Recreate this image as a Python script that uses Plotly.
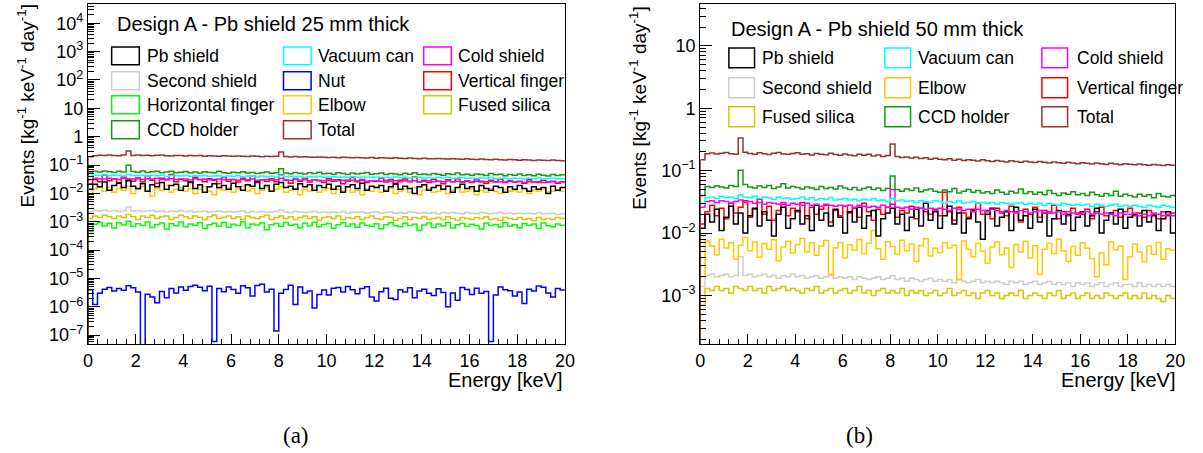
import plotly.graph_objects as go

# ---------------- data ----------------
E_MIN, E_MAX, N_BINS = 0.0, 20.0, 100
EDGES = [E_MIN + i * (E_MAX - E_MIN) / N_BINS for i in range(N_BINS + 1)]

# Panel (a): Pb shield 25 mm thick
A_TOTAL = [195, 214, 223, 217, 226, 219, 213, 224, 312, 218,
           226, 216, 220, 211, 221, 225, 214, 209, 219, 215,
           207, 216, 212, 219, 205, 213, 208, 204, 214, 209,
           203, 210, 206, 199, 208, 204, 198, 206, 201, 203,
           288, 200, 194, 199, 191, 196, 192, 187, 193, 189,
           185, 190, 182, 188, 184, 179, 186, 181, 177, 183,
           175, 181, 178, 172, 179, 174, 170, 176, 171, 167,
           174, 168, 165, 171, 166, 162, 168, 163, 159, 165,
           160, 156, 163, 158, 154, 160, 155, 151, 157, 153,
           149, 155, 150, 146, 152, 148, 144, 150, 145, 143]  # x1e-3
A_CCD = [52, 60, 57, 62, 58, 55, 61, 57, 98, 59,
         56, 62, 55, 58, 61, 54, 57, 60, 53, 56,
         59, 54, 57, 52, 58, 55, 53, 60, 54, 51,
         56, 53, 58, 52, 55, 50, 54, 57, 51, 53,
         74, 52, 49, 55, 51, 48, 53, 50, 56, 49,
         51, 47, 53, 50, 46, 52, 48, 51, 55, 47,
         49, 52, 46, 50, 48, 45, 51, 47, 54, 46,
         48, 45, 50, 47, 44, 49, 46, 52, 45, 47,
         44, 48, 46, 43, 50, 45, 47, 42, 46, 44,
         48, 43, 45, 42, 47, 44, 41, 46, 43, 45]  # x1e-3
A_VAC = [40, 44, 43, 45, 42, 44, 43, 41, 46, 43,
         42, 44, 41, 43, 42, 44, 40, 43, 42, 41,
         43, 40, 42, 41, 43, 40, 41, 42, 39, 41,
         40, 42, 39, 41, 40, 38, 41, 39, 40, 38,
         44, 39, 40, 38, 40, 37, 39, 38, 40, 37,
         38, 39, 37, 38, 36, 39, 37, 38, 36, 37,
         38, 36, 37, 35, 38, 36, 37, 35, 36, 37,
         35, 36, 34, 36, 35, 37, 34, 35, 36, 34,
         35, 33, 35, 34, 36, 33, 34, 35, 33, 34,
         34, 32, 34, 33, 35, 32, 33, 34, 32, 33]  # x1e-3
A_COLD = [30, 34, 33, 32, 34, 33, 31, 34, 33, 32,
          33, 31, 33, 32, 34, 31, 32, 33, 31, 32,
          32, 30, 33, 31, 32, 30, 31, 32, 30, 31,
          31, 29, 31, 30, 32, 29, 30, 31, 29, 30,
          34, 30, 29, 31, 29, 30, 28, 30, 29, 28,
          29, 30, 28, 29, 27, 29, 28, 29, 27, 28,
          28, 27, 29, 27, 28, 26, 28, 27, 28, 26,
          27, 28, 26, 27, 26, 28, 26, 27, 25, 27,
          26, 27, 25, 26, 27, 25, 26, 25, 27, 25,
          26, 24, 26, 25, 26, 24, 25, 26, 24, 25]  # x1e-3
A_VFINGER = [22, 31, 26, 44, 28, 33, 24, 38, 30, 27,
             35, 25, 41, 29, 23, 34, 30, 46, 26, 32,
             28, 24, 37, 31, 26, 33, 29, 22, 36, 27,
             31, 25, 34, 28, 40, 24, 30, 27, 33, 26,
             45, 29, 23, 32, 27, 35, 25, 30, 28, 24,
             33, 27, 30, 22, 29, 36, 26, 31, 24, 28,
             27, 34, 25, 30, 23, 29, 32, 26, 38, 25,
             29, 24, 31, 27, 22, 30, 26, 33, 25, 28,
             24, 30, 27, 23, 29, 26, 32, 24, 28, 25,
             27, 23, 30, 26, 24, 29, 25, 27, 23, 26]  # x1e-3
A_PB = [14, 21, 17, 25, 13, 19, 23, 16, 28, 18,
        15, 22, 12, 20, 17, 24, 14, 19, 21, 13,
        18, 25, 15, 20, 11, 17, 22, 16, 19, 14,
        23, 17, 13, 20, 18, 26, 15, 19, 12, 21,
        24, 16, 18, 14, 22, 17, 20, 13, 19, 16,
        21, 14, 18, 11, 17, 20, 15, 23, 13, 18,
        16, 19, 12, 17, 21, 14, 18, 15, 10, 17,
        20, 13, 16, 19, 14, 18, 11, 16, 21, 15,
        17, 12, 19, 15, 13, 18, 16, 11, 17, 14,
        19, 15, 12, 17, 14, 16, 10, 18, 13, 16]  # x1e-3
A_ELBOW = [9, 14, 17, 12, 16, 11, 15, 13, 18, 10,
           14, 17, 12, 8, 15, 13, 19, 11, 14, 16,
           12, 15, 10, 14, 17, 12, 9, 15, 13, 16,
           11, 14, 18, 12, 15, 10, 13, 16, 12, 14,
           17, 11, 13, 15, 9, 14, 12, 16, 11, 13,
           15, 10, 14, 12, 17, 11, 13, 9, 14, 12,
           16, 11, 13, 15, 10, 12, 14, 11, 16, 9,
           13, 15, 11, 12, 14, 10, 13, 16, 11, 12,
           14, 9, 13, 11, 15, 12, 10, 14, 12, 13,
           11, 15, 10, 13, 12, 14, 11, 12, 13, 12]  # x1e-3
A_SECOND = [22, 25, 24, 26, 24, 25, 23, 25, 33, 24,
            25, 23, 24, 25, 23, 24, 22, 24, 23, 25,
            23, 24, 22, 23, 24, 22, 23, 24, 22, 23,
            22, 23, 24, 21, 23, 22, 23, 21, 22, 23,
            26, 22, 21, 23, 22, 21, 22, 23, 21, 22,
            21, 22, 21, 23, 20, 22, 21, 22, 20, 21,
            22, 20, 21, 22, 20, 21, 20, 22, 21, 20,
            21, 20, 21, 19, 21, 20, 21, 20, 19, 21,
            20, 19, 21, 20, 19, 20, 21, 19, 20, 19,
            20, 19, 20, 19, 21, 19, 19, 20, 18, 19]  # x1e-4
A_FUSED = [13, 16, 14, 17, 15, 13, 16, 14, 18, 15,
           12, 16, 14, 17, 13, 15, 16, 12, 14, 17,
           15, 13, 16, 14, 12, 15, 17, 13, 14, 16,
           13, 15, 12, 16, 14, 13, 15, 17, 12, 14,
           16, 13, 15, 12, 14, 16, 13, 15, 11, 14,
           15, 13, 16, 12, 14, 13, 15, 12, 14, 16,
           13, 12, 15, 14, 11, 13, 15, 12, 14, 13,
           15, 12, 13, 14, 12, 15, 13, 11, 14, 13,
           12, 14, 13, 15, 12, 13, 11, 14, 13, 12,
           14, 12, 13, 11, 14, 12, 13, 12, 14, 13]  # x1e-4
A_HFINGER = [45, 82, 95, 71, 88, 60, 93, 77, 104, 68,
             85, 74, 98, 63, 80, 91, 55, 86, 72, 97,
             66, 83, 76, 92, 58, 79, 88, 70, 95, 64,
             81, 73, 99, 61, 84, 77, 90, 52, 78, 86,
             69, 94, 75, 82, 62, 89, 71, 96, 67, 80,
             87, 59, 78, 92, 70, 83, 64, 91, 76, 68,
             85, 57, 79, 93, 72, 66, 88, 74, 81, 49,
             77, 90, 63, 84, 71, 95, 60, 79, 87, 68,
             82, 74, 56, 89, 73, 80, 65, 92, 70, 78,
             61, 86, 75, 83, 58, 90, 72, 66, 84, 76]  # x1e-5
A_NUT = [40, 12, 30, 42, 48, 36, 44, 38, 55, 47,
         33, 0.001, 28, 22, 14, 35, 21, 44, 31, 50,
         38, 52, 58, 49, 37, 53, 0.6, 44, 34, 50,
         41, 30, 55, 47, 24, 57, 62, 33, 42, 1.4,
         30, 41, 58, 12, 50, 31, 36, 9, 27, 39,
         26, 45, 48, 33, 52, 40, 29, 44, 51, 22,
         16, 34, 45, 20, 18, 40, 33, 47, 21, 36,
         42, 30, 25, 43, 32, 10, 31, 17, 48, 41,
         27, 45, 30, 35, 0.6, 26, 50, 40, 37, 24,
         33, 13, 42, 36, 54, 49, 31, 22, 44, 39]  # x1e-7

# Panel (b): Pb shield 50 mm thick
B_TOTAL = [150, 187, 192, 185, 190, 196, 186, 183, 335, 197,
           189, 184, 193, 187, 182, 191, 195, 185, 183, 189,
           193, 183, 187, 179, 189, 184, 180, 190, 182, 176,
           185, 179, 174, 183, 177, 184, 172, 179, 169, 175,
           268, 168, 162, 166, 159, 164, 156, 161, 153, 158,
           152, 149, 155, 147, 152, 145, 150, 147, 143, 149,
           144, 140, 146, 141, 138, 144, 140, 136, 142, 138,
           135, 140, 136, 133, 138, 134, 131, 136, 133, 129,
           134, 131, 128, 133, 129, 126, 131, 128, 125, 129,
           127, 124, 128, 125, 122, 126, 123, 121, 125, 122]  # x1e-3
B_CCD = [40, 56, 54, 57, 55, 53, 58, 56, 102, 60,
         55, 53, 57, 54, 58, 52, 55, 62, 53, 56,
         54, 51, 55, 53, 50, 56, 52, 54, 51, 57,
         53, 50, 54, 49, 52, 55, 50, 53, 48, 52,
         82, 50, 47, 51, 48, 53, 46, 49, 51, 47,
         45, 49, 46, 52, 44, 47, 50, 45, 48, 44,
         46, 43, 49, 45, 42, 47, 44, 51, 43, 46,
         42, 45, 41, 48, 43, 40, 44, 42, 46, 41,
         43, 40, 45, 41, 39, 43, 40, 47, 39, 42,
         40, 38, 42, 39, 41, 37, 43, 39, 38, 40]  # x1e-3
B_VAC = [30, 37, 38, 36, 39, 37, 38, 36, 41, 38,
         37, 39, 36, 38, 37, 35, 38, 36, 37, 35,
         36, 38, 35, 37, 34, 36, 35, 37, 34, 35,
         36, 34, 35, 33, 35, 34, 36, 33, 34, 32,
         36, 33, 34, 32, 33, 31, 33, 32, 31, 33,
         32, 30, 32, 31, 33, 30, 31, 32, 30, 31,
         30, 31, 29, 31, 30, 29, 30, 31, 29, 30,
         29, 30, 28, 30, 29, 28, 30, 29, 28, 29,
         28, 29, 27, 29, 28, 27, 28, 29, 27, 28,
         27, 28, 27, 26, 28, 27, 26, 28, 27, 26]  # x1e-3
B_COLD = [26, 32, 33, 31, 33, 32, 30, 32, 34, 31,
          32, 30, 31, 29, 31, 30, 29, 31, 28, 30,
          29, 28, 30, 28, 29, 27, 29, 28, 27, 28,
          27, 28, 26, 28, 27, 26, 27, 26, 28, 26,
          50, 26, 25, 26, 24, 26, 25, 24, 25, 23,
          25, 24, 23, 25, 24, 23, 24, 22, 24, 23,
          22, 24, 23, 22, 23, 22, 21, 23, 22, 21,
          22, 23, 21, 22, 21, 22, 20, 22, 21, 20,
          21, 22, 20, 21, 20, 21, 20, 19, 21, 20,
          20, 21, 19, 20, 19, 21, 20, 19, 20, 19]  # x1e-3
B_VFINGER = [14, 22, 28, 19, 25, 17, 30, 21, 26, 33,
             18, 24, 35, 20, 27, 16, 23, 29, 19, 25,
             22, 31, 17, 26, 20, 24, 28, 15, 23, 19,
             27, 21, 25, 18, 30, 22, 16, 24, 20, 26,
             29, 18, 23, 21, 27, 17, 25, 22, 20, 24,
             19, 45, 22, 16, 26, 21, 18, 24, 30, 20,
             23, 17, 25, 21, 19, 27, 22, 15, 24, 20,
             26, 18, 23, 21, 28, 17, 22, 19, 25, 21,
             20, 24, 17, 22, 26, 19, 21, 23, 18, 22,
             25, 19, 21, 18, 23, 20, 17, 22, 19, 21]  # x1e-3
B_PB = [12, 20, 15, 24, 11, 18, 27, 14, 21, 10,
        19, 25, 13, 22, 16, 9, 20, 26, 12, 17,
        23, 14, 19, 11, 28, 16, 21, 13, 24, 18,
        10, 22, 15, 26, 12, 19, 23, 9, 17, 21,
        25, 14, 20, 11, 18, 24, 13, 30, 16, 22,
        12, 19, 27, 14, 21, 10, 17, 23, 15, 8,
        20, 25, 13, 18, 22, 11, 26, 16, 19, 12,
        24, 15, 21, 9, 17, 23, 14, 20, 11, 18,
        22, 13, 19, 25, 10, 16, 21, 14, 24, 12,
        18, 20, 13, 23, 15, 19, 11, 17, 22, 10]  # x1e-3
B_ELBOW = [20, 75, 62, 45, 80, 58, 70, 38, 64, 85,
           52, 72, 41, 68, 55, 78, 36, 60, 74, 48,
           66, 82, 50, 70, 44, 62, 76, 22, 58, 71,
           40, 65, 53, 79, 47, 69, 110, 56, 38, 73,
           61, 46, 77, 52, 67, 35, 63, 81, 43, 57,
           49, 70, 58, 64, 18, 75, 55, 42, 68, 51,
           33, 60, 72, 45, 58, 28, 66, 50, 74, 40,
           63, 22, 55, 69, 47, 80, 52, 35, 61, 44,
           70, 57, 39, 20, 48, 31, 73, 54, 62, 18,
           42, 67, 50, 35, 62, 46, 71, 38, 56, 53]  # x1e-4
B_SECOND = [14, 21, 22, 20, 21, 22, 20, 21, 42, 21,
            22, 20, 21, 22, 20, 21, 19, 21, 20, 22,
            20, 21, 19, 20, 21, 19, 20, 21, 19, 20,
            19, 20, 18, 20, 19, 18, 19, 20, 18, 19,
            21, 18, 19, 17, 19, 18, 17, 18, 19, 17,
            18, 17, 18, 16, 18, 17, 16, 17, 18, 16,
            17, 16, 17, 16, 15, 17, 16, 17, 15, 16,
            17, 15, 16, 17, 15, 16, 15, 16, 14, 16,
            15, 16, 14, 15, 16, 14, 15, 16, 14, 15,
            15, 14, 16, 14, 15, 14, 15, 14, 15, 14]  # x1e-4
B_FUSED = [7, 13, 12, 14, 12, 13, 11, 14, 13, 12,
           14, 12, 13, 11, 14, 12, 13, 14, 12, 13,
           12, 11, 13, 12, 14, 11, 12, 13, 11, 12,
           13, 11, 12, 14, 11, 12, 10, 12, 13, 11,
           12, 11, 13, 10, 12, 11, 12, 10, 11, 12,
           10, 11, 13, 10, 11, 12, 10, 11, 9, 11,
           12, 10, 11, 9, 10, 11, 10, 12, 9, 10,
           11, 10, 9, 11, 10, 12, 9, 10, 11, 9,
           10, 11, 9, 10, 9, 11, 10, 9, 10, 11,
           9, 10, 9, 11, 9, 10, 9, 8, 10, 9]  # x1e-4

X_TICKS = [0, 2, 4, 6, 8, 10, 12, 14, 16, 18, 20]
A_YTICKS = [1e-7, 1e-6, 1e-5, 1e-4, 1e-3, 1e-2, 1e-1, 1, 10, 100, 1e3, 1e4]
A_YLABELS = ["10<sup>−7</sup>", "10<sup>−6</sup>", "10<sup>−5</sup>", "10<sup>−4</sup>",
             "10<sup>−3</sup>", "10<sup>−2</sup>", "10<sup>−1</sup>", "1", "10",
             "10<sup>2</sup>", "10<sup>3</sup>", "10<sup>4</sup>"]
B_YTICKS = [1e-3, 1e-2, 1e-1, 1, 10]
B_YLABELS = ["10<sup>−3</sup>", "10<sup>−2</sup>", "10<sup>−1</sup>", "1", "10"]

TITLE_A = "Design A - Pb shield 25 mm thick"
TITLE_B = "Design A - Pb shield 50 mm thick"

# ---------------- style ----------------
COL = {
    "Pb shield": "#000000", "Second shield": "#cdcdcd", "Horizontal finger": "#00ff00",
    "CCD holder": "#149914", "Vacuum can": "#00ffff", "Nut": "#0000ff",
    "Elbow": "#ffc800", "Total": "#993333", "Cold shield": "#ff00ff",
    "Vertical finger": "#ff0000", "Fused silica": "#cccc00",
}
W, H = 1203, 453
FONT = "Liberation Sans, Arial, sans-serif"


def fx(px):
    return px / W


def fy(py):
    return 1 - py / H


def hist(vals, unit, name, xa, ya):
    y = [v * unit for v in vals]
    xs = [EDGES[0]] + EDGES
    ys = [1e-12] + y + [y[-1]]
    return go.Scatter(x=xs, y=ys, mode="lines", name=name,
                      line=dict(color=COL[name], width=1.5, shape="hv"),
                      xaxis=xa, yaxis=ya, showlegend=False, hoverinfo="skip")


fig = go.Figure()
series_a = [(A_SECOND, 1e-4, "Second shield"), (A_FUSED, 1e-4, "Fused silica"),
            (A_HFINGER, 1e-5, "Horizontal finger"), (A_NUT, 1e-7, "Nut"),
            (A_ELBOW, 1e-3, "Elbow"), (A_VFINGER, 1e-3, "Vertical finger"),
            (A_PB, 1e-3, "Pb shield"), (A_COLD, 1e-3, "Cold shield"),
            (A_VAC, 1e-3, "Vacuum can"), (A_CCD, 1e-3, "CCD holder"),
            (A_TOTAL, 1e-3, "Total")]
series_b = [(B_SECOND, 1e-4, "Second shield"), (B_FUSED, 1e-4, "Fused silica"),
            (B_ELBOW, 1e-4, "Elbow"), (B_VFINGER, 1e-3, "Vertical finger"),
            (B_PB, 1e-3, "Pb shield"), (B_COLD, 1e-3, "Cold shield"),
            (B_VAC, 1e-3, "Vacuum can"), (B_CCD, 1e-3, "CCD holder"),
            (B_TOTAL, 1e-3, "Total")]
for vals, unit, name in series_a:
    fig.add_trace(hist(vals, unit, name, "x", "y"))
for vals, unit, name in series_b:
    fig.add_trace(hist(vals, unit, name, "x2", "y2"))

minor_log = [m * 10.0 ** e for e in range(-9, 6) for m in range(2, 10)]


def xaxis(dom, anchor):
    return dict(domain=dom, anchor=anchor, range=[0, 20], tickvals=X_TICKS,
                ticks="inside", ticklen=10, tickwidth=1, tickcolor="black",
                minor=dict(ticks="inside", ticklen=5, dtick=0.4, tick0=0,
                           tickcolor="black", showgrid=False),
                showline=True, linecolor="black", linewidth=1, mirror=True,
                showgrid=False, zeroline=False,
                tickfont=dict(family=FONT, size=18, color="black"))


def yaxis(dom, anchor, rng, tv, tt):
    return dict(domain=dom, anchor=anchor, type="log", range=rng,
                tickmode="array", tickvals=tv, ticktext=tt,
                ticks="inside", ticklen=12, tickwidth=1, tickcolor="black",
                minor=dict(ticks="inside", ticklen=6, tickmode="array",
                           tickvals=minor_log, tickcolor="black", showgrid=False),
                showline=True, linecolor="black", linewidth=1, mirror=True,
                showgrid=False, zeroline=False,
                tickfont=dict(family=FONT, size=18, color="black"))


ydom = [fy(345), fy(4)]
fig.update_layout(
    width=W, height=H, margin=dict(l=0, r=0, t=0, b=0),
    paper_bgcolor="white", plot_bgcolor="white",
    xaxis=xaxis([fx(84), fx(567)], "y"),
    yaxis=yaxis(ydom, "x", [-7.32, 4.68], A_YTICKS, A_YLABELS),
    xaxis2=xaxis([fx(704), fx(1185)], "y2"),
    yaxis2=yaxis(ydom, "x2", [-3.78, 1.67], B_YTICKS, B_YLABELS),
)

ann = []
shapes = []


def text(px, py, s, size=17.5, xanchor="left", angle=0, family=FONT, yanchor="middle"):
    ann.append(dict(x=fx(px), y=fy(py), xref="paper", yref="paper", text=s,
                    showarrow=False, xanchor=xanchor, yanchor=yanchor, textangle=angle,
                    font=dict(family=family, size=size, color="black")))


ytitle = "Events [kg<sup>-1</sup> keV<sup>-1</sup> day<sup>-1</sup>]"
text(21, 106, ytitle, size=19, xanchor="center", angle=-90)
text(641, 109, ytitle, size=19, xanchor="center", angle=-90)
text(567, 381, "Energy [keV]", size=20, xanchor="right")
text(1188, 381, "Energy [keV]", size=20, xanchor="right")
text(295, 436, "(a)", size=23, xanchor="center", family="Liberation Serif, serif")
text(865, 436, "(b)", size=23, xanchor="center", family="Liberation Serif, serif")
text(111, 24, TITLE_A, size=20)
text(733, 29, TITLE_B, size=20)

LEG_A = [["Pb shield", "Vacuum can", "Cold shield"],
         ["Second shield", "Nut", "Vertical finger"],
         ["Horizontal finger", "Elbow", "Fused silica"],
         ["CCD holder", "Total"]]
LEG_B = [["Pb shield", "Vacuum can", "Cold shield"],
         ["Second shield", "Elbow", "Vertical finger"],
         ["Fused silica", "CCD holder", "Total"]]


def legend(rows, box_x, text_x, row_y, bw, bh):
    for r, row in enumerate(rows):
        for c, name in enumerate(row):
            cy = row_y[r]
            shapes.append(dict(type="rect", xref="paper", yref="paper",
                               x0=fx(box_x[c]), x1=fx(box_x[c] + bw),
                               y0=fy(cy - bh / 2), y1=fy(cy + bh / 2),
                               line=dict(color=COL[name], width=1.5)))
            text(text_x[c], cy, name)


legend(LEG_A, [108, 282, 424], [142, 315, 457], [56, 81, 105, 130], 28, 18)
legend(LEG_B, [733, 891, 1050], [765, 923, 1084], [58, 88, 117], 26, 20)

fig.update_layout(annotations=ann, shapes=shapes)
fig.write_html("out.html", config={"displayModeBar": False},
               post_script="document.body.style.margin='0';")
